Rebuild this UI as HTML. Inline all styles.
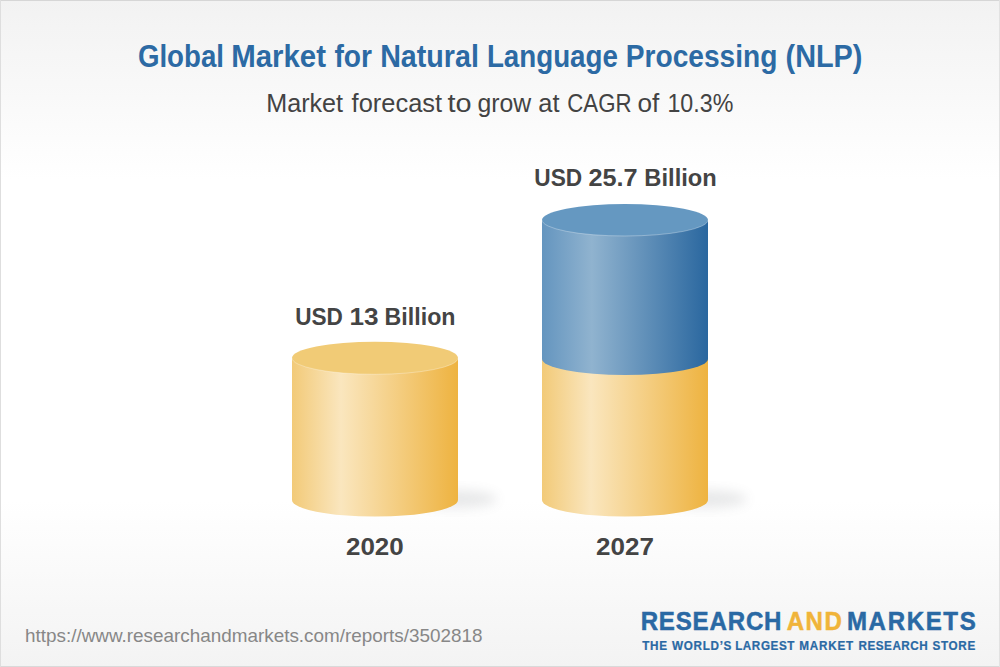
<!DOCTYPE html>
<html><head><meta charset="utf-8">
<style>
html,body{margin:0;padding:0;width:1000px;height:667px;overflow:hidden;background:#fff}
svg{display:block}
text{font-family:"Liberation Sans",sans-serif}
</style></head>
<body>
<svg width="1000" height="667" viewBox="0 0 1000 667">
<defs>
  <linearGradient id="bg" x1="0" y1="0" x2="0" y2="1">
    <stop offset="0" stop-color="#f2f2f2"/>
    <stop offset="0.27" stop-color="#ffffff"/>
    <stop offset="0.75" stop-color="#ffffff"/>
    <stop offset="1" stop-color="#f3f3f3"/>
  </linearGradient>
  <linearGradient id="ybody" x1="0" y1="0" x2="1" y2="0">
    <stop offset="0" stop-color="#f2ca78"/>
    <stop offset="0.295" stop-color="#fae6be"/>
    <stop offset="1" stop-color="#eeb340"/>
  </linearGradient>
  <linearGradient id="bbody" x1="0" y1="0" x2="1" y2="0">
    <stop offset="0" stop-color="#6495bf"/>
    <stop offset="0.30" stop-color="#90b3cf"/>
    <stop offset="1" stop-color="#2a679f"/>
  </linearGradient>
  <filter id="blur" x="-50%" y="-50%" width="200%" height="200%"><feGaussianBlur stdDeviation="6"/></filter>
</defs>
<rect x="0" y="0" width="1000" height="667" fill="url(#bg)"/>
<rect x="0" y="0" width="1000" height="1" fill="#d6d6d6"/><rect x="0" y="666" width="1000" height="1" fill="#d9d9d9"/><rect x="0" y="0" width="1" height="667" fill="#dedede"/><rect x="999" y="0" width="1" height="667" fill="#e2e2e2"/>
<text x="137.89" y="67" font-size="32" font-weight="bold" fill="#2c6aa4" textLength="86.08" lengthAdjust="spacingAndGlyphs">Global</text>
<text x="231.19" y="67" font-size="32" font-weight="bold" fill="#2c6aa4" textLength="94.81" lengthAdjust="spacingAndGlyphs">Market</text>
<text x="334.48" y="67" font-size="32" font-weight="bold" fill="#2c6aa4" textLength="37.59" lengthAdjust="spacingAndGlyphs">for</text>
<text x="380.14" y="67" font-size="32" font-weight="bold" fill="#2c6aa4" textLength="98.78" lengthAdjust="spacingAndGlyphs">Natural</text>
<text x="486.90" y="67" font-size="32" font-weight="bold" fill="#2c6aa4" textLength="131.01" lengthAdjust="spacingAndGlyphs">Language</text>
<text x="625.77" y="67" font-size="32" font-weight="bold" fill="#2c6aa4" textLength="151.69" lengthAdjust="spacingAndGlyphs">Processing</text>
<text x="785.56" y="67" font-size="32" font-weight="bold" fill="#2c6aa4" textLength="76.91" lengthAdjust="spacingAndGlyphs">(NLP)</text>
<text x="266.19" y="112" font-size="25.6" font-weight="normal" fill="#434343" textLength="76.87" lengthAdjust="spacingAndGlyphs">Market</text>
<text x="351.62" y="112" font-size="25.6" font-weight="normal" fill="#434343" textLength="90.46" lengthAdjust="spacingAndGlyphs">forecast</text>
<text x="447.57" y="112" font-size="25.6" font-weight="normal" fill="#434343" textLength="24.10" lengthAdjust="spacingAndGlyphs">to</text>
<text x="477.41" y="112" font-size="25.6" font-weight="normal" fill="#434343" textLength="53.73" lengthAdjust="spacingAndGlyphs">grow</text>
<text x="538.36" y="112" font-size="25.6" font-weight="normal" fill="#434343" textLength="21.17" lengthAdjust="spacingAndGlyphs">at</text>
<text x="567.29" y="112" font-size="25.6" font-weight="normal" fill="#434343" textLength="64.31" lengthAdjust="spacingAndGlyphs">CAGR</text>
<text x="637.45" y="112" font-size="25.6" font-weight="normal" fill="#434343" textLength="21.82" lengthAdjust="spacingAndGlyphs">of</text>
<text x="667.46" y="112" font-size="25.6" font-weight="normal" fill="#434343" textLength="65.87" lengthAdjust="spacingAndGlyphs">10.3%</text>
<text x="295.14" y="324.5" font-size="24.8" font-weight="bold" fill="#444444" textLength="47.69" lengthAdjust="spacingAndGlyphs">USD</text>
<text x="349.50" y="324.5" font-size="24.8" font-weight="bold" fill="#444444" textLength="29.08" lengthAdjust="spacingAndGlyphs">13</text>
<text x="384.59" y="324.5" font-size="24.8" font-weight="bold" fill="#444444" textLength="70.91" lengthAdjust="spacingAndGlyphs">Billion</text>
<text x="534.34" y="186.3" font-size="24.8" font-weight="bold" fill="#444444" textLength="47.90" lengthAdjust="spacingAndGlyphs">USD</text>
<text x="588.42" y="186.3" font-size="24.8" font-weight="bold" fill="#444444" textLength="49.15" lengthAdjust="spacingAndGlyphs">25.7</text>
<text x="644.36" y="186.3" font-size="24.8" font-weight="bold" fill="#444444" textLength="72.37" lengthAdjust="spacingAndGlyphs">Billion</text>
<text x="345.99" y="555" font-size="24.8" font-weight="bold" fill="#444444" textLength="57.74" lengthAdjust="spacingAndGlyphs">2020</text>
<text x="595.99" y="555" font-size="24.8" font-weight="bold" fill="#444444" textLength="57.87" lengthAdjust="spacingAndGlyphs">2027</text>
<text transform="scale(0.92,1)" x="696.34" y="629.8" font-size="26.2" font-weight="bold" fill="#2a69a4" letter-spacing="0.887" stroke="#2a69a4" stroke-width="0.5">RESEARCH</text>
<text transform="scale(0.92,1)" x="855.21" y="629.8" font-size="26.2" font-weight="bold" fill="#f0b43a" letter-spacing="1.566" stroke="#f0b43a" stroke-width="0.5">AND</text>
<text transform="scale(0.92,1)" x="920.58" y="629.8" font-size="26.2" font-weight="bold" fill="#2a69a4" letter-spacing="1.764" stroke="#2a69a4" stroke-width="0.5">MARKETS</text>
<text transform="scale(0.9,1)" x="713.54" y="649.6" font-size="13" font-weight="bold" fill="#2a69a4" letter-spacing="0.825" stroke="#2a69a4" stroke-width="0.25">THE</text>
<text transform="scale(0.9,1)" x="746.67" y="649.6" font-size="13" font-weight="bold" fill="#2a69a4" letter-spacing="0.775" stroke="#2a69a4" stroke-width="0.25">WORLD’S</text>
<text transform="scale(0.9,1)" x="816.82" y="649.6" font-size="13" font-weight="bold" fill="#2a69a4" letter-spacing="0.639" stroke="#2a69a4" stroke-width="0.25">LARGEST</text>
<text transform="scale(0.9,1)" x="888.04" y="649.6" font-size="13" font-weight="bold" fill="#2a69a4" letter-spacing="0.880" stroke="#2a69a4" stroke-width="0.25">MARKET</text>
<text transform="scale(0.9,1)" x="954.04" y="649.6" font-size="13" font-weight="bold" fill="#2a69a4" letter-spacing="0.537" stroke="#2a69a4" stroke-width="0.25">RESEARCH</text>
<text transform="scale(0.9,1)" x="1036.05" y="649.6" font-size="13" font-weight="bold" fill="#2a69a4" letter-spacing="0.774" stroke="#2a69a4" stroke-width="0.25">STORE</text>
<g filter="url(#blur)" fill="#5f636b" opacity="0.14">
<ellipse cx="455" cy="499" rx="42" ry="9"/>
<ellipse cx="705" cy="499" rx="42" ry="9"/>
</g>
<path d="M292,358 L292,500 A83,16.5 0 0 0 458,500 L458,358 Z" fill="url(#ybody)"/>
<ellipse cx="375" cy="358" rx="83" ry="16.3" fill="#f1cb76"/>
<path d="M292,358 A83,16.3 0 0 0 458,358" fill="none" stroke="#fff" stroke-opacity="0.3" stroke-width="1"/>
<path d="M542,359 L542,500 A83,16.5 0 0 0 708,500 L708,359 Z" fill="url(#ybody)"/>
<path d="M542,220 L542,359 A83,16 0 0 0 708,359 L708,220 Z" fill="url(#bbody)"/>
<ellipse cx="625" cy="220" rx="83" ry="16" fill="#6598c1"/>
<path d="M542,220 A83,16 0 0 0 708,220" fill="none" stroke="#fff" stroke-opacity="0.3" stroke-width="1"/>
<text x="25" y="641.6" font-size="17.7" fill="#878787" textLength="457.5" lengthAdjust="spacingAndGlyphs">https://www.researchandmarkets.com/reports/3502818</text>
</svg>
</body></html>
